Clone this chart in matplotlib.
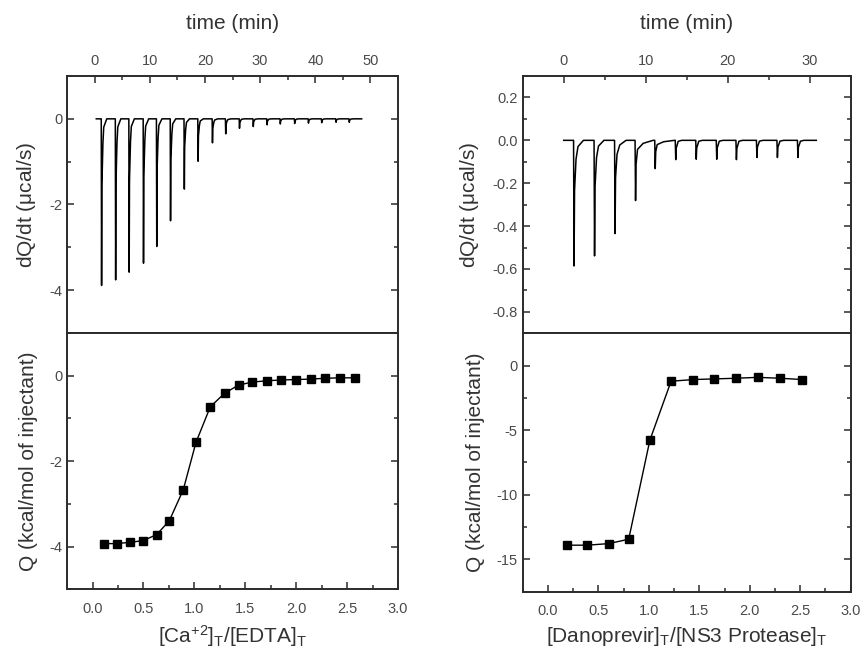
import numpy as np
import matplotlib
matplotlib.use("Agg")
import matplotlib.pyplot as plt
from matplotlib.ticker import MultipleLocator

plt.rcParams['font.family'] = ['Liberation Sans', 'DejaVu Sans']
plt.rcParams['mathtext.default'] = 'regular'
plt.rcParams['axes.unicode_minus'] = False

# --- Ca+2 / EDTA : raw thermogram (injection time, peak depth) ---
ca_inj_time = [1.2, 3.75, 6.2, 8.8, 11.2, 13.7, 16.2, 18.7, 21.3, 23.7,
               26.2, 28.7, 31.2, 33.6, 36.2, 38.7, 41.1, 43.7, 46.1]
ca_peak = [-3.89, -3.76, -3.58, -3.37, -2.98, -2.38, -1.64, -0.99, -0.56, -0.35,
           -0.22, -0.18, -0.14, -0.12, -0.11, -0.10, -0.09, -0.08, -0.08]
ca_tail = [1.0, 1.0, 1.0, 1.0, 1.0, 1.0, 1.0, 1.0, 1.0, 1.0,
           0.9, 0.9, 0.9, 0.9, 0.9, 0.9, 0.9, 0.9, 0.9]
ca_trace_span = (0.3, 48.4)

# --- Ca+2 / EDTA : integrated heats ---
ca_ratio = [0.115, 0.236, 0.367, 0.498, 0.629, 0.753, 0.891, 1.016, 1.156, 1.297,
            1.434, 1.566, 1.709, 1.851, 1.998, 2.145, 2.283, 2.430, 2.574]
ca_heat = [-3.93, -3.93, -3.90, -3.86, -3.72, -3.40, -2.67, -1.56, -0.73, -0.41,
           -0.22, -0.15, -0.12, -0.10, -0.09, -0.08, -0.06, -0.05, -0.05]

# --- Danoprevir / NS3 : raw thermogram ---
dan_inj_time = [1.2, 3.7, 6.2, 8.7, 11.1, 13.6, 16.1, 18.6, 21.0, 23.5, 26.0, 28.5]
dan_peak = [-0.586, -0.539, -0.435, -0.281, -0.132, -0.09, -0.088, -0.088,
            -0.09, -0.08, -0.08, -0.08]
dan_tail = [1.2, 1.2, 1.4, 2.2, 2.4, 0.8, 0.8, 0.8, 0.8, 0.8, 0.8, 0.8]
dan_trace_span = (0.0, 30.8)

# --- Danoprevir / NS3 : integrated heats ---
dan_ratio = [0.19, 0.39, 0.60, 0.80, 1.01, 1.22, 1.44, 1.65, 1.86, 2.08, 2.30, 2.52]
dan_heat = [-13.9, -13.9, -13.78, -13.44, -5.77, -1.21, -1.08, -1.03, -0.98,
            -0.91, -0.98, -1.08]


def build_trace(times, peaks, tails, span):
    # baseline with a sharp spike and quick recovery at each injection
    tt = [span[0]]
    yy = [0.0]
    for t0, d, tl in zip(times, peaks, tails):
        tt += [t0, t0 + 0.06, t0 + 0.12, t0 + 0.3, t0 + 0.45 * tl, t0 + tl]
        yy += [0.0, d, d * 0.4, d * 0.15, d * 0.05, 0.0]
    tt.append(span[1])
    yy.append(0.0)
    return np.array(tt), np.array(yy)


text_col = '#333333'
tick_col = '#4a4a4a'


def style(ax):
    for s in ax.spines.values():
        s.set_linewidth(1.4)
        s.set_color('#2b2b2b')
    ax.tick_params(which='both', direction='in', colors='#2b2b2b',
                   labelcolor=tick_col, labelsize=10.5, width=1.1)
    ax.tick_params(which='major', length=5)
    ax.tick_params(which='minor', length=3)


fig = plt.figure(figsize=(8.65, 6.57), dpi=100)

panels = [
    (0.0775, 0.3827, (ca_inj_time, ca_peak, ca_tail, ca_trace_span), (-5, 55), 10,
     (-5, 1), 2, 1, ca_ratio, ca_heat, (-5, 1), 2, 1,
     'dQ/dt ($\\mu$cal/s)', '[Ca$^{+2}$]$_T$/[EDTA]$_T$', 0.4932, 0.1030),
    (0.6043, 0.3792, (dan_inj_time, dan_peak, dan_tail, dan_trace_span), (-5, 35), 10,
     (-0.9, 0.3), 0.2, 0.1, dan_ratio, dan_heat, (-17.5, 2.5), 5, 2.5,
     'dQ/dt ($\\mu$cal/s)', '[Danoprevir]$_T$/[NS3 Protease]$_T$', 0.4927, 0.0994),
]

top = 0.8843
for (x0, w, raw, tlim, tmaj, ylim1, ymaj1, ymin1, ratio, heat, ylim2, ymaj2, ymin2,
     ylab1, xlab2, mid, bot) in panels:
    ax1 = fig.add_axes([x0, mid, w, top - mid])
    ax2 = fig.add_axes([x0, bot, w, mid - bot])

    t, y = build_trace(*raw)
    ax1.plot(t, y, color='black', lw=1.1)
    ax1.set_xlim(*tlim)
    ax1.set_ylim(*ylim1)
    ax1.xaxis.set_major_locator(MultipleLocator(tmaj))
    ax1.xaxis.set_minor_locator(MultipleLocator(tmaj / 2))
    ax1.yaxis.set_major_locator(MultipleLocator(ymaj1))
    ax1.yaxis.set_minor_locator(MultipleLocator(ymin1))
    style(ax1)
    ax1.tick_params(which='both', top=True, bottom=False, labeltop=True,
                    labelbottom=False, left=True, right=True)
    ax1.tick_params(axis='x', pad=6)
    ax1.xaxis.set_label_position('top')
    ax1.set_xlabel('time (min)', fontsize=15, color=text_col, labelpad=18)
    ax1.set_ylabel(ylab1, fontsize=15, color=text_col, labelpad=8)
    # keep the frame edge ticks tidy
    ax1.set_yticks([v for v in ax1.get_yticks() if ylim1[0] < v < ylim1[1] - 1e-9])

    ax2.plot(ratio, heat, color='black', lw=1.0, marker='s', ms=6,
             mfc='black', mec='black')
    ax2.set_xlim(-0.25, 3.0)
    ax2.set_ylim(*ylim2)
    ax2.xaxis.set_major_locator(MultipleLocator(0.5))
    ax2.xaxis.set_minor_locator(MultipleLocator(0.25))
    ax2.yaxis.set_major_locator(MultipleLocator(ymaj2))
    ax2.yaxis.set_minor_locator(MultipleLocator(ymin2))
    ax2.set_xticks([0.0, 0.5, 1.0, 1.5, 2.0, 2.5, 3.0])
    ax2.set_xticklabels(['0.0', '0.5', '1.0', '1.5', '2.0', '2.5', '3.0'])
    ax2.set_yticks([v for v in np.arange(0, ylim2[0], -ymaj2) if v > ylim2[0]])
    style(ax2)
    ax2.tick_params(which='both', top=False, bottom=True, left=True, right=True)
    ax2.tick_params(axis='x', pad=9)
    ax2.set_xlabel(xlab2, fontsize=15, color=text_col, labelpad=5)
    ax2.set_ylabel('Q (kcal/mol of injectant)', fontsize=15, color=text_col, labelpad=8)

fig.savefig('out.png', dpi=100)
